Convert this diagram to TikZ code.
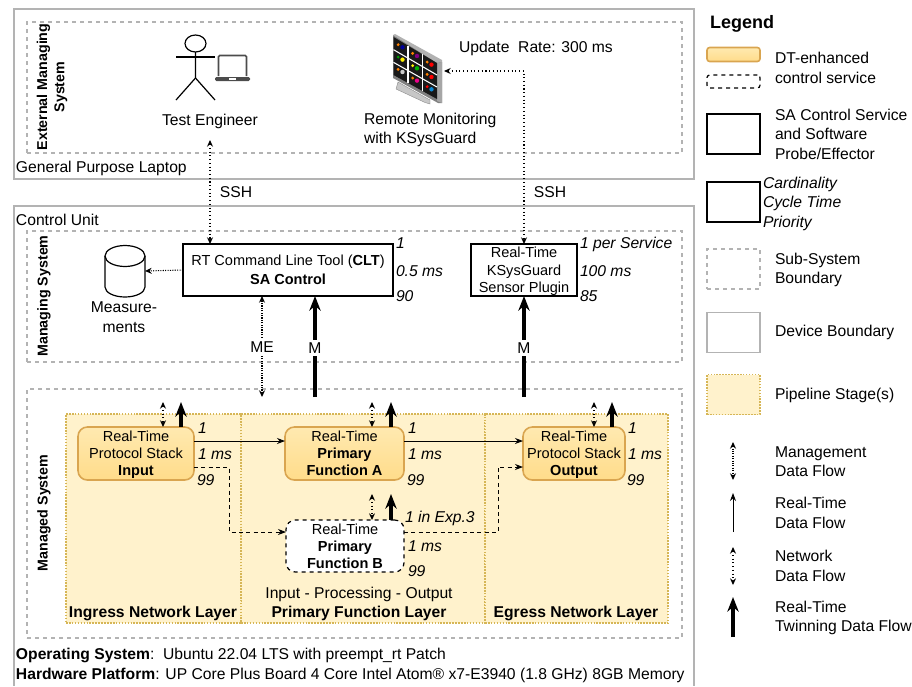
\documentclass[tikz,border=0pt]{standalone}
\usepackage{fontspec}
\setmainfont{Liberation Sans}
\usetikzlibrary{positioning, arrows.meta}

\definecolor{boundgray}{HTML}{B3B3B3}
\definecolor{stagefill}{HTML}{FFF2CC}
\definecolor{stageline}{HTML}{D6B656}
\definecolor{svcline}{HTML}{D9A550}
\definecolor{svctop}{HTML}{FFE9B0}
\definecolor{svcbot}{HTML}{FFDC8A}

\tikzset{
 base/.style={inner sep=0pt, outer sep=0pt},
 lbl/.style={base, anchor=west, align=left, font=\fontsize{11.75}{14.6}\selectfont},
 lblc/.style={base, align=center, font=\fontsize{11.75}{15}\selectfont},
 lblb/.style={base, align=center, font=\fontsize{11.75}{15}\selectfont\bfseries},
 ital/.style={lbl, font=\fontsize{11.75}{14.6}\selectfont\itshape},
 vert/.style={base, rotate=90, align=center, font=\fontsize{10.7}{13}\selectfont\bfseries},
 device/.style={base, draw=boundgray, line width=1pt},
 subsys/.style={base, draw=boundgray, dashed, line width=0.8pt},
 stage/.style={base, draw=stageline, fill=stagefill, densely dotted, line width=1.2pt},
 sabox/.style={base, draw=black, line width=1.6pt, fill=white, align=center, text depth=0pt, font=\fontsize{10.9}{13.1}\selectfont},
 dtsvc/.style={base, draw=svcline, line width=1.2pt, top color=svctop, bottom color=svcbot, rounded corners=7pt, align=center, text depth=0pt, font=\fontsize{10.9}{12.9}\selectfont},
 dtopen/.style={base, draw=black, dashed, line width=0.9pt, fill=white, rounded corners=7pt, align=center, text depth=0pt, font=\fontsize{10.9}{12.9}\selectfont},
 mgmt/.style={{Stealth[length=5pt,width=4.5pt]}-{Stealth[length=5pt,width=4.5pt]}, densely dotted, line width=0.8pt},
 net/.style={{Stealth[length=5pt,width=4.5pt]}-{Stealth[length=5pt,width=4.5pt]}, dotted, line width=0.8pt},
 rtflow/.style={-{Stealth[length=6pt,width=4.5pt]}, line width=0.7pt},
 dashflow/.style={-{Stealth[length=6pt,width=4.5pt]}, dash pattern=on 3pt off 2.5pt, line width=0.7pt},
 twin/.style={-{Stealth[length=11pt,width=8.5pt]}, line width=3pt},
}

\begin{document}
\begin{tikzpicture}[x=0.75pt, y=-0.75pt]
 \useasboundingbox (0,0) rectangle (912,686);

 % device and sub-system boundaries
 \node[device, minimum width=510pt, minimum height=127.5pt] (laptop) at (354,94) {};
 \draw[boundgray, line width=1pt] (14,686) -- (14,206) -- (694,206) -- (694,686);
 \node[subsys, minimum width=491.25pt, minimum height=98.25pt] (extsys) at (354.5,87.5) {};
 \node[subsys, minimum width=491.25pt, minimum height=98.25pt] (mgrsys) at (354.5,296.5) {};
 \node[subsys, minimum width=491.25pt, minimum height=186.75pt] (mgdsys) at (354.5,513.5) {};

 \node[lbl] (laptoplbl) at (16,168) {General Purpose Laptop};
 \node[lbl] (unitlbl) at (16,219.5) {Control Unit};
 \node[vert] (extlbl) at (52,87) {External Managing\\System};
 \node[vert] (mgrlbl) at (44,296) {Managing System};
 \node[vert] (mgdlbl) at (44,513) {Managed System};

 % pipeline stages
 \node[stage, minimum width=183pt, minimum height=156.75pt] (primary) at (363,518.5) {};
 \node[stage, minimum width=137.25pt, minimum height=156.75pt] (egress) at (576.5,518.5) {};
 \node[stage, minimum width=131.25pt, minimum height=156.75pt] (ingress) at (153.5,518.5) {};

 \node[lblb] (ingresslbl) at (153,613.5) {Ingress Network Layer};
 \node[lblc] (ipolbl) at (359,594) {Input - Processing - Output};
 \node[lblb] (primarylbl) at (359,613.5) {Primary Function Layer};
 \node[lblb] (egresslbl) at (576,613.5) {Egress Network Layer};

 % test engineer
 \draw[line width=0.9pt] (195.5,43.5) ellipse (10.5 and 8.5);
 \draw[line width=0.9pt] (195.5,52) -- (195.5,78) -- (176,100);
 \draw[line width=0.9pt] (195.5,78) -- (215,100);
 \draw[line width=0.9pt] (176,57) -- (215,57);
 \draw[black!70, line width=1.2pt, rounded corners=1pt] (218.5,76) -- (218.5,55.5) -- (246.5,55.5) -- (246.5,76);
 \fill[black!70, rounded corners=1pt] (215,77) -- (250,77) -- (250,81) -- (215,81) -- cycle;
 \fill[white] (229,78.3) rectangle (236,80);
 \node[lblc] (engineer) at (210,121) {Test Engineer};

 % remote monitor
 \fill[black!22, draw=black!45, line width=0.3pt] (398,82) -- (430,100) -- (430,104) -- (425,102.5) -- (396,89) -- cycle;
 \fill[black!50] (393,35) -- (442,62) -- (442,103) -- (438,103) -- (393,78) -- cycle;
 \fill[black!30] (393,35) -- (395,34) -- (442,60) -- (442,62) -- (437,63) -- cycle;
 \fill[black!35] (437,63) -- (442,62) -- (442,103) -- (437,101) -- cycle;
 \fill[black!90] (393.5,37) -- (437,63) -- (437,99) -- (393.5,75) -- cycle;
 \foreach \u in {1,2}
  \draw[white, line width=0.8pt] ({393.5+43.5*\u/3},{37+26*\u/3}) -- ({393.5+43.5*\u/3},{75+24*\u/3});
 \foreach \v in {1,2}
  \draw[white, line width=0.8pt] ({393.5},{37+38*\v/3}) -- (437,{63+36*\v/3});
 \foreach \col/\row/\cola/\colb in {0/0/orange/blue!60!black, 1/0/orange/violet, 2/0/orange/red,
   0/1/green!60!black/yellow, 1/1/yellow/green!70!black, 2/1/orange/red,
   0/2/orange/black!20, 1/2/orange/magenta, 2/2/red/cyan!70!blue} {
  \fill[\cola] ({393.5+43.5*(\col+.32)/3},{37+26*(\col+.32)/3+37*(\row+.4)/3}) circle (1.6);
  \fill[\colb] ({393.5+43.5*(\col+.62)/3},{37+26*(\col+.62)/3+37*(\row+.4)/3}) circle (2.2);
 }
 \node[lbl] (monitorlbl) at (364,130) {Remote Monitoring\\with KSysGuard};
 \node[lbl] (ratelbl) at (459,48.5) {Update\ \ Rate: 300 ms};

 % managing system
 \node[sabox, minimum width=157.5pt, minimum height=39pt, font=\fontsize{10.9}{14.2}\selectfont] (sacontrol) at (288,270) {RT Command Line Tool (\textbf{CLT})\\\textbf{SA Control}};
 \node[sabox, minimum width=79.5pt, minimum height=39pt] (sensor) at (524,270) {Real-Time\\KSysGuard\\Sensor Plugin};
 \node[base, minimum width=30pt, minimum height=39pt] (store) at (125,271) {};
 \draw[line width=0.9pt] (105,256) -- (105,287) arc[start angle=180, end angle=0, x radius=20, y radius=10] -- (145,256);
 \draw[line width=0.9pt] (125,256) ellipse (20 and 10.5);
 \node[lblc] (storelbl) at (124,317) {Measure-\\ments};

 \node[ital] (cltcard) at (396,243) {1};
 \node[ital] (cltcycle) at (396,271) {0.5 ms};
 \node[ital] (cltprio) at (396,296) {90};
 \node[ital] (sensorcard) at (580,244) {1 per Service};
 \node[ital] (sensorcycle) at (580,271) {100 ms};
 \node[ital] (sensorprio) at (580,296) {85};

 % services
 \node[dtsvc, minimum width=87pt, minimum height=39.75pt] (input) at (136,453.5) {Real-Time\\Protocol Stack\\\textbf{Input}};
 \node[dtsvc, minimum width=89.25pt, minimum height=39.75pt] (funca) at (344.5,453.5) {Real-Time\\\textbf{Primary}\\\textbf{Function A}};
 \node[dtsvc, minimum width=76.5pt, minimum height=39.75pt] (output) at (574,453.5) {Real-Time\\Protocol Stack\\\textbf{Output}};
 \node[dtopen, minimum width=88.5pt, minimum height=39pt] (funcb) at (345,546) {Real-Time\\\textbf{Primary}\\\textbf{Function B}};

 \foreach \x/\name in {198/input, 408/funca, 628/output} {
  \node[ital] (\name card) at (\x,428) {1};
  \node[ital] (\name cycle) at (\x,454) {1 ms};
  \node[ital] (\name prio) at (\x-1,480) {99};
 }
 \node[ital] (funcbcard) at (405,518) {1 in Exp.3};
 \node[ital] (funcbcycle) at (408,546) {1 ms};
 \node[ital] (funcbprio) at (408,571) {99};

 % free ends
 \coordinate (engineerport) at (210,140);
 \coordinate (monitorport) at (444,71);
 \coordinate (monitorbend) at (524,71);
 \coordinate (meport) at (262,397);
 \coordinate (mport) at (315,397);
 \coordinate (msensorport) at (524,397);
 \coordinate (inputmgmt) at (163,402);
 \coordinate (inputtwin) at (181,402);
 \coordinate (funcamgmt) at (372,402);
 \coordinate (funcatwin) at (391,402);
 \coordinate (outputmgmt) at (594,402);
 \coordinate (outputtwin) at (612,402);
 \coordinate (funcbmgmt) at (372,494);
 \coordinate (funcbtwin) at (391,494);

 % connectors
 \draw[net] (engineerport) -- (engineerport |- sacontrol.north);
 \draw[net] (monitorport) -- (monitorbend) -- (monitorbend |- sensor.north);
 \draw[mgmt, -{Stealth[length=5pt,width=4.5pt]}] (sacontrol.west) -- (store.east);
 \draw[mgmt] (meport) -- (meport |- sacontrol.south);
 \draw[twin] (mport) -- (mport |- sacontrol.south);
 \draw[twin] (msensorport) -- (msensorport |- sensor.south);
 \node[lblc, fill=white, inner ysep=2pt] (sshleft) at (236,192.5) {SSH};
 \node[lblc, fill=white, inner ysep=2pt] (sshright) at (550,192.5) {SSH};
 \node[lblc, fill=white, inner ysep=2pt] (melbl) at (262,347) {ME};
 \node[lblc, fill=white, inner ysep=2pt] (mlbl) at (315,348) {M};
 \node[lblc, fill=white, inner ysep=2pt] (msensorlbl) at (524,348) {M};

 \foreach \a in {input, funca, output} {
  \draw[net] (\a mgmt) -- (\a mgmt |- \a.north);
  \draw[twin] (\a.north -| \a twin) -- (\a twin);
 }
 \draw[net] (funcbmgmt) -- (funcbmgmt |- funcb.north);
 \draw[twin] (funcb.north -| funcbtwin) -- (funcbtwin);

 \draw[rtflow] (input.east |- 0,441) -- (funca.west |- 0,441);
 \draw[rtflow] (funca.east |- 0,441) -- (output.west |- 0,441);
 \draw[dashflow] (input.east |- 0,467) -- (229,467) -- (229,532) -- (funcb.west |- 0,532);
 \draw[dashflow] (funcb.east |- 0,532) -- (498,532) -- (498,467) -- (output.west |- 0,467);

 % legend
 \node[lbl, font=\fontsize{13.5}{16}\selectfont\bfseries] (legendlbl) at (710,23.5) {Legend};
 \node[dtsvc, rounded corners=2pt, minimum width=39.75pt, minimum height=10.5pt] (legdt) at (733.5,54.5) {};
 \node[dtopen, rounded corners=2pt, minimum width=39.75pt, minimum height=9.75pt] (legopen) at (733.5,81.5) {};
 \node[sabox, minimum width=39.75pt, minimum height=30pt] (legsa) at (733.5,134) {};
 \node[sabox, minimum width=39.75pt, minimum height=30pt] (legcard) at (733.5,202) {};
 \node[subsys, minimum width=39.75pt, minimum height=30pt] (legsub) at (733.5,269) {};
 \node[device, minimum width=39.75pt, minimum height=30pt] (legdev) at (733.5,332.5) {};
 \node[stage, minimum width=39.75pt, minimum height=30pt] (legstage) at (733.5,394.5) {};

 \node[lbl] (legdttxt) at (775,68) {DT-enhanced\\control service};
 \node[lbl] (legsatxt) at (775,134) {SA Control Service\\and Software\\Probe/Effector};
 \node[ital, align=left] (legcardtxt) at (763,203.5) {Cardinality\\Cycle Time\\Priority};
 \node[lbl] (legsubtxt) at (775,270) {Sub-System\\Boundary};
 \node[lbl] (legdevtxt) at (775,332.5) {Device Boundary};
 \node[lbl] (legstagetxt) at (775,395.5) {Pipeline Stage(s)};
 \node[lbl] (legmgmttxt) at (775,461.5) {Management\\Data Flow};
 \node[lbl] (legrttxt) at (775,513) {Real-Time\\Data Flow};
 \node[lbl] (legnettxt) at (775,566) {Network\\Data Flow};
 \node[lbl] (legtwintxt) at (775,618) {Real-Time\\Twinning Data Flow};

 \coordinate (legmgmttop) at (733,442);
 \coordinate (legmgmtbot) at (733,480);
 \coordinate (legrttop) at (733,493);
 \coordinate (legrtbot) at (733,532);
 \coordinate (legnettop) at (733,547);
 \coordinate (legnetbot) at (733,585);
 \coordinate (legtwintop) at (733,597);
 \coordinate (legtwinbot) at (733,637);
 \draw[mgmt] (legmgmttop) -- (legmgmtbot);
 \draw[rtflow] (legrtbot) -- (legrttop);
 \draw[net] (legnettop) -- (legnetbot);
 \draw[twin] (legtwinbot) -- (legtwintop);

 % platform notes
 \node[lbl] (oslbl) at (16,655.5) {\textbf{Operating System}:\ \ Ubuntu 22.04 LTS with preempt\_rt Patch};
 \node[lbl] (hwlbl) at (16,675.5) {\textbf{Hardware Platform}: UP Core Plus Board 4 Core Intel Atom® x7-E3940 (1.8 GHz) 8GB Memory};
\end{tikzpicture}
\end{document}
